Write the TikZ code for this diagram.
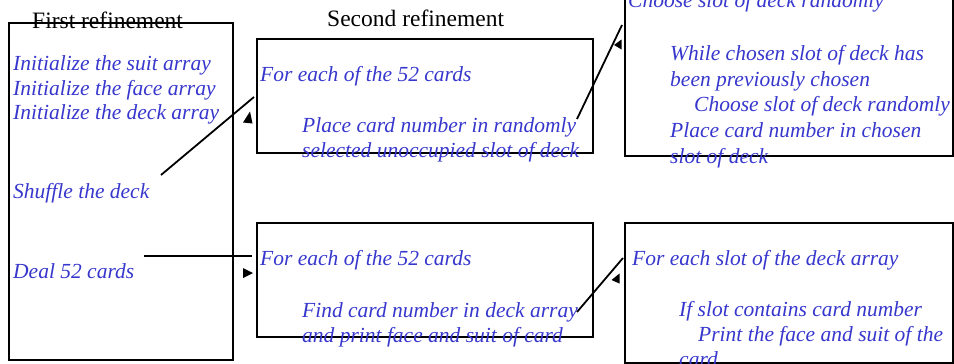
\documentclass[tikz,border=0pt]{standalone}
\usepackage{fontspec}
\setmainfont{Liberation Serif}
\definecolor{txt}{RGB}{55,55,205}
\begin{document}
\begin{tikzpicture}[x=1pt,y=-1pt,
  box/.style={draw=black,line width=1.7pt,inner sep=0pt,outer sep=0pt,anchor=north west},
  item/.style={anchor=base west,inner sep=0pt,text=txt,font=\fontsize{21.5}{25}\selectfont\itshape},
  ttl/.style={anchor=base west,inner sep=0pt,font=\fontsize{23.5}{27}\selectfont},
  conn/.style={line width=1.8pt},
  tip/.style={fill=black}]
\useasboundingbox (0,0) rectangle (954,364);
\clip (0,0) rectangle (954,364);
% boxes
\node[box,minimum width=224,minimum height=337] (b1) at (9,23) {};
\node[box,minimum width=336,minimum height=114] (b2) at (257,39) {};
\node[box,minimum width=328,minimum height=176] (b3) at (625,-20) {};
\node[box,minimum width=336,minimum height=114] (b4) at (257,223) {};
\node[box,minimum width=328,minimum height=140] (b5) at (625,223) {};
% titles
\node[ttl] (t1) at (32,28) {First refinement};
\node[ttl] (t2) at (327,27) {Second refinement};
% first refinement
\node[item] (i1) at (13,70) {Initialize the suit array};
\node[item] (i2) at (13,95) {Initialize the face array};
\node[item] (i3) at (13,119) {Initialize the deck array};
\node[item] (i4) at (13,198) {Shuffle the deck};
\node[item] (i5) at (13,278) {Deal 52 cards};
% second refinement top
\node[item] (a1) at (260,81) {For each of the 52 cards};
\node[item] (a2) at (302,132) {Place card number in randomly};
\node[item] (a3) at (302,157) {selected unoccupied slot of deck};
% third refinement top
\node[item] (c0) at (628,8) {Choose slot of deck randomly};
\node[item] (c1) at (670,60) {While chosen slot of deck has};
\node[item] (c2) at (670,86) {been previously chosen};
\node[item] (c3) at (694,111) {Choose slot of deck randomly};
\node[item] (c4) at (670,137) {Place card number in chosen};
\node[item] (c5) at (670,163) {slot of deck};
% second refinement bottom
\node[item] (d1) at (260,265) {For each of the 52 cards};
\node[item] (d2) at (302,317) {Find card number in deck array};
\node[item] (d3) at (302,342) {and print face and suit of card};
% third refinement bottom
\node[item] (e1) at (632,265) {For each slot of the deck array};
\node[item] (e2) at (679,316) {If slot contains card number};
\node[item] (e3) at (698,341) {Print the face and suit of the};
\node[item] (e4) at (679,366) {card};
% connector ends
\coordinate (s1) at (161,175); \coordinate (f1) at (254,97);
\coordinate (s2) at (144,256); \coordinate (f2) at (252,256);
\coordinate (s3) at (577,119); \coordinate (f3) at (622,25);
\coordinate (s4) at (577,312); \coordinate (f4) at (623,258);
\draw[conn] (s1) -- (f1);
\draw[conn] (s2) -- (f2);
\draw[conn] (s3) -- (f3);
\draw[conn] (s4) -- (f4);
% detached arrowheads
\fill[tip] (243,122.5) -- (250,111.5) -- (252.5,123.5) -- cycle;
\fill[tip] (243,268) -- (253,273) -- (243,278) -- cycle;
\fill[tip] (614,45) -- (621.5,39.5) -- (621.5,49.5) -- cycle;
\fill[tip] (611.5,280) -- (619.5,273.5) -- (619.5,283.5) -- cycle;
\end{tikzpicture}
\end{document}
